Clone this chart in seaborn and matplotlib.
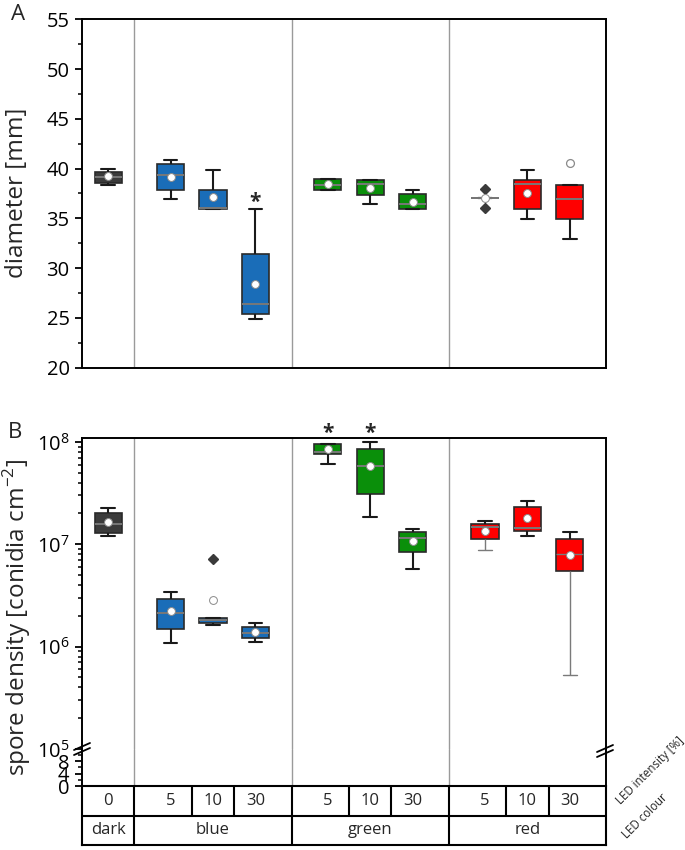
import matplotlib
matplotlib.use("Agg")
import matplotlib.pyplot as plt
from matplotlib.lines import Line2D
from matplotlib.ticker import MultipleLocator, LogLocator, NullFormatter, FixedLocator
import pandas as pd
import seaborn as sns

# treatments, left to right
colours = ["dark", "blue", "blue", "blue", "green", "green", "green", "red", "red", "red"]
intensity = ["0", "5", "10", "30", "5", "10", "30", "5", "10", "30"]
colour_names = ["dark", "blue", "green", "red"]

# A: colony diameter [mm] -- sorted samples (min, q1, median, q3, max)
diam_samples = [
    [38.4, 38.6, 39.2, 39.7, 40.0],
    [36.9, 37.9, 39.4, 40.5, 40.9],
    [35.9, 35.9, 36.0, 37.9, 39.9],
    [24.9, 25.4, 26.4, 31.4, 35.9],
    [37.85, 37.85, 38.4, 38.95, 38.95],
    [36.45, 37.3, 38.45, 38.9, 38.9],
    [35.9, 35.9, 36.4, 37.45, 37.9],
    [36.0, 37.0, 37.0, 37.0, 38.0],
    [34.9, 35.9, 38.45, 38.9, 39.9],
    [32.9, 34.9, 36.9, 38.4, 38.4],
]
diam_means = [39.25, 39.2, 37.1, 28.45, 38.5, 38.05, 36.65, 37.0, 37.6, float("nan")]
diam_open = [float("nan")] * 9 + [40.55]
diam_sig = [0, 0, 0, 1, 0, 0, 0, 0, 0, 0]

# B: spore density [conidia cm-2]
spore_samples = [
    [1.21e7, 1.30e7, 1.58e7, 2.01e7, 2.28e7],
    [1.09e6, 1.48e6, 2.12e6, 2.90e6, 3.44e6],
    [1.63e6, 1.71e6, 1.82e6, 1.92e6, 7.13e6],
    [1.10e6, 1.21e6, 1.37e6, 1.57e6, 1.69e6],
    [6.14e7, 7.58e7, 7.98e7, 9.56e7, 9.56e7],
    [1.85e7, 3.10e7, 5.78e7, 8.55e7, 1.00e8],
    [5.77e6, 8.36e6, 1.15e7, 1.31e7, 1.42e7],
    [8.73e6, 1.13e7, 1.49e7, 1.56e7, 1.70e7],
    [1.21e7, 1.36e7, 1.44e7, 2.33e7, 2.67e7],
    [5.27e5, 5.52e6, 8.04e6, 1.13e7, 1.33e7],
]
spore_means = [1.66e7, 2.24e6, 2.86e6, 1.40e6, 8.6e7, 5.86e7, 1.08e7, 1.36e7, 1.80e7, 7.85e6]
spore_sig = [0, 0, 0, 0, 1, 1, 0, 0, 0, 0]

# layout
xpos = [0, 1.19, 2, 2.81, 4.19, 5, 5.81, 7.19, 8, 8.81]
group_mid = [0, 2, 5, 8]
dividers = [0.5, 3.5, 6.5]
palette = {"dark": "#3b3b3b", "blue": "#1a6db8", "green": "#0a8f0a", "red": "#ff0000"}

sns.set_style("ticks")
plt.rcParams["font.family"] = ["Open Sans", "DejaVu Sans"]
plt.rcParams["mathtext.fontset"] = "custom"
plt.rcParams["mathtext.rm"] = "Open Sans"
plt.rcParams["axes.linewidth"] = 1.4
plt.rcParams["xtick.color"] = "black"
plt.rcParams["ytick.color"] = "black"

W, H = 685, 850
fig = plt.figure(figsize=(W / 100, H / 100), dpi=100)


def fx(px):
    return px / W


def fy(py):
    return 1 - py / H


L, R = fx(82), fx(606)
axA = fig.add_axes([L, fy(367.7), R - L, fy(19.3) - fy(367.7)])
axB = fig.add_axes([L, fy(749), R - L, fy(438.3) - fy(749)])
axC = fig.add_axes([L, fy(786), R - L, fy(749) - fy(786)])
axT = fig.add_axes([L, fy(845), R - L, fy(786) - fy(845)])


def draw_boxes(ax, samples, means, log=False):
    rows = [(xpos[i], colours[i], v) for i, s in enumerate(samples) for v in s]
    df = pd.DataFrame(rows, columns=["pos", "colour", "val"])
    sns.boxplot(
        data=df, x="pos", y="val", hue="colour", hue_order=colour_names,
        palette=palette, saturation=1, native_scale=True, dodge=False, width=0.64,
        whis=4, linecolor="#2a2a2a", linewidth=1.2, legend=False,
        log_scale=(False, True) if log else None,
        medianprops=dict(color="#787878", linewidth=1.4),
        whiskerprops=dict(color="#1a1a1a", linewidth=1.5),
        capprops=dict(color="#1a1a1a", linewidth=1.5),
        flierprops=dict(marker="D", markerfacecolor="#3a3a3a",
                        markeredgecolor="#3a3a3a", markersize=5),
        ax=ax,
    )
    sns.scatterplot(x=xpos, y=means, marker="o", s=32, color="white",
                    edgecolor="#8a8a8a", linewidth=0.7, zorder=6, legend=False, ax=ax)
    for d in dividers:
        ax.axvline(d, color="#9a9a9a", lw=1.0, zorder=0)
    ax.set_xlim(-0.5, 9.5)
    ax.set_xticks([])
    ax.set_xlabel("")
    ax.set_ylabel("")


# ---- panel A
draw_boxes(axA, diam_samples, diam_means)
sns.scatterplot(x=xpos, y=diam_open, marker="o", s=32, color="white",
                edgecolor="#8a8a8a", linewidth=0.9, zorder=6, legend=False, ax=axA)
for i, s in enumerate(diam_sig):
    if s:
        axA.text(xpos[i], 36.6, "*", ha="center", va="center", fontsize=15,
                 fontweight="bold")
axA.set_ylim(20, 55)
axA.yaxis.set_major_locator(MultipleLocator(5))
axA.yaxis.set_minor_locator(MultipleLocator(2.5))
for sp in axA.spines.values():
    sp.set_visible(True)
    sp.set_color("black")

# ---- panel B (log part)
axB.set_yscale("log")
draw_boxes(axB, spore_samples, spore_means, log=True)
for i, s in enumerate(spore_sig):
    if s:
        axB.text(xpos[i], 10 ** 8.085, "*", ha="center", va="center", fontsize=15,
                 fontweight="bold", clip_on=False)
axB.set_ylim(1e5, 10 ** 8.035)
axB.yaxis.set_major_locator(LogLocator(base=10, numticks=10))
axB.yaxis.set_minor_locator(LogLocator(base=10, subs=range(2, 10), numticks=20))
axB.yaxis.set_minor_formatter(NullFormatter())
for k in ["left", "top", "right"]:
    axB.spines[k].set_visible(True)
    axB.spines[k].set_color("black")
axB.spines["bottom"].set_visible(False)

# the two long lower whiskers of the red boxes are drawn thin and grey
for ln in axB.get_lines():
    xd, yd = ln.get_xdata(), ln.get_ydata()
    if len(yd) == 2 and min(xd) > 7 and min(yd) < 1.0e7 and max(yd) < 1.2e7:
        ln.set_color("#7a7a7a")
        ln.set_linewidth(1.0)

# ---- panel B (linear stub below the break)
for d in dividers:
    axC.axvline(d, color="#9a9a9a", lw=1.0, zorder=0)
axC.set_xlim(-0.5, 9.5)
axC.set_ylim(0, 11.9)
axC.set_xticks([])
axC.yaxis.set_major_locator(FixedLocator([0, 4, 8]))
axC.yaxis.set_minor_locator(FixedLocator([2, 6, 10]))
for k in ["left", "bottom", "right"]:
    axC.spines[k].set_visible(True)
    axC.spines[k].set_color("black")
axC.spines["top"].set_visible(False)

for ax in (axA, axB, axC):
    ax.tick_params(axis="y", which="major", direction="out", length=5, width=1.3,
                   labelsize=14.5, pad=4)
    ax.tick_params(axis="y", which="minor", direction="out", length=2.8, width=1.1)

# ---- condition table
axT.set_xlim(-0.5, 9.5)
axT.set_ylim(0, 2)
axT.set_xticks([])
axT.set_yticks([])
for sp in axT.spines.values():
    sp.set_visible(True)
    sp.set_color("black")
    sp.set_linewidth(1.5)
axT.axhline(1, color="black", lw=1.5)
cell_edges = [0.5, 1.595, 2.405, 3.5, 4.595, 5.405, 6.5, 7.595, 8.405]
for e in cell_edges:
    axT.plot([e, e], [1, 2], color="black", lw=1.5)
for d in dividers:
    axT.plot([d, d], [0, 1], color="black", lw=1.5)
for x, t in zip(xpos, intensity):
    axT.text(x, 1.5, t, ha="center", va="center", fontsize=12)
for x, t in zip(group_mid, colour_names):
    axT.text(x, 0.5, t, ha="center", va="center", fontsize=12)

fig.text(fx(650), fy(771), "LED intensity [%]", rotation=45, ha="center", va="center",
         fontsize=8.3)
fig.text(fx(645), fy(816), "LED colour", rotation=45, ha="center", va="center",
         fontsize=8.3)

# axis titles & panel letters
fig.text(fx(17), fy(193), "diameter [mm]", rotation=90, ha="center", va="center",
         fontsize=17.5)
fig.text(fx(17), fy(617), "spore density [conidia cm$^{\\mathregular{-2}}$]", rotation=90,
         ha="center", va="center", fontsize=17.5)
fig.text(fx(18), fy(15), "A", ha="center", va="center", fontsize=16)
fig.text(fx(15), fy(433), "B", ha="center", va="center", fontsize=16)

# axis break marks
for cx, cy in [(82, 749), (605, 751)]:
    for off in (-2.5, 2.5):
        fig.add_artist(Line2D([fx(cx - 8), fx(cx + 8)],
                              [fy(cy + 3.5 + off), fy(cy - 3.5 + off)],
                              color="black", lw=1.3))

fig.savefig("out.png", dpi=100)
